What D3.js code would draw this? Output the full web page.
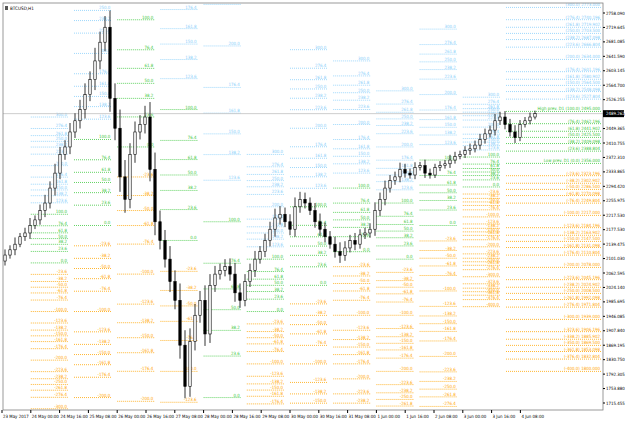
<!DOCTYPE html>
<html>
<head>
<style>
  body { margin: 0; background: #fff; }
  text { font-family: "DejaVu Sans Condensed", "DejaVu Sans", sans-serif; }
</style>
</head>
<body>
<svg id="chart"></svg>
<script src="https://d3js.org/d3.v7.min.js"></script>
<script>
// closes of the bars, every ~2.8h from 23 May 2017
var closes = [2111,2125,2140,2160,2170,2190,2205,2230,2250,2290,2330,2380,2400,2440,2470,2500,2540,2580,2630,2680,
  2720,2530,2450,2320,2260,2380,2440,2460,2480,2340,2200,2150,2100,2040,1990,1870,1760,1880,1950,1990,
  1900,2030,2060,2070,2080,2060,2010,1990,2040,2070,2100,2120,2150,2180,2210,2220,2200,2180,2240,2260,
  2250,2230,2200,2180,2160,2140,2120,2110,2130,2150,2140,2165,2170,2180,2230,2260,2290,2310,2320,2340,
  2330,2325,2345,2350,2330,2325,2345,2350,2355,2365,2375,2380,2390,2395,2405,2420,2435,2445,2470,2480,
  2460,2440,2425,2460,2470,2480,2489];
var firstOpen = 2095;
var wicks = [15,12,18,10,14,20,12,16,22,18,25,20,18,24,20,26,30,22,35,28,
  30,45,40,50,45,30,28,25,30,40,45,30,28,35,30,45,40,35,30,25,
  40,30,22,18,20,22,30,25,20,18,22,15,18,20,25,22,18,20,25,20,
  18,15,20,22,18,15,20,25,18,15,20,15,14,16,22,18,20,15,14,18,
  15,12,14,10,16,12,10,12,10,14,12,10,12,14,12,15,14,12,18,14,
  16,15,18,12,10,12,8];

// previous-day high/low feeding each day's fibonacci grid (days 24 May .. 4 Jun)
var dayPrevHigh = [2220,2420,2740,2500,2200,2100,2240,2290,2250,2365,2373,2495];
var dayPrevLow  = [2090,2190,2400,2150,1730,1960,2030,2120,2100,2190,2293,2356];
var fibRatios = [300,276.4,261.8,250,238.2,223.6,200,176.4,161.8,150,138.2,123.6,100,76.4,61.8,50,38.2,23.6,0,
  -23.6,-38.2,-50,-61.8,-76.4,-100,-123.6,-138.2,-150,-161.8,-176.4,-200,-223.6,-238.2,-250,-261.8,-276.4,-300,
  -323.6,-338.2,-350,-361.8,-376.4,-400];

var priceTicks = ["2758.090","2719.645","2681.085","2641.590","2603.145","2564.700","2526.255","2487.810","2449.365",
  "2410.755","2372.310","2333.865","2294.420","2255.975","2217.530","2177.530","2139.475","2101.030","2062.595",
  "2024.140","1985.695","1946.085","1907.840","1869.195","1830.750","1792.305","1753.880","1715.455"];
var timeLabels = ["23 May 2017","24 May 00:00","24 May 16:00","25 May 08:00","26 May 00:00","26 May 16:00",
  "27 May 08:00","28 May 00:00","28 May 16:00","29 May 08:00","30 May 00:00","30 May 16:00","31 May 08:00",
  "1 Jun 00:00","1 Jun 16:00","2 Jun 08:00","3 Jun 00:00","3 Jun 16:00","4 Jun 08:00"];

var W = 625, H = 425, L = 3, R = 603, T = 3, B = 410;
var svg = d3.select("#chart").attr("width", W).attr("height", H);

var y = d3.scaleLinear().domain([1715.455, 2758.09]).range([403, 13]);
var xi = d3.scaleLinear().domain([0, closes.length - 1]).range([5, 535]);
// hours since 23 May 08:00
var xt = d3.scaleLinear().domain([0, 16]).range([2, 30.8]);

svg.append("defs").append("clipPath").attr("id", "clip")
  .append("rect").attr("x", L).attr("y", T).attr("width", R - L).attr("height", B - T);
var g = svg.append("g").attr("clip-path", "url(#clip)");

function col(r) { return r > 100 ? "#87cefa" : (r >= 0 ? "#3cc83c" : "#ffa500"); }

// fibonacci grids per day
dayPrevHigh.forEach(function(hi, k) {
  var lo = dayPrevLow[k];
  var last = k === dayPrevHigh.length - 1;
  var x0 = xt(16 + 24 * k), x1 = last ? R - 2 : xt(16 + 24 * (k + 1)) - 6;
  fibRatios.forEach(function(r) {
    var p = lo + r / 100 * (hi - lo);
    var yy = y(p);
    if (yy < T || yy > B) return;
    g.append("line").attr("x1", x0).attr("x2", x1).attr("y1", yy).attr("y2", yy)
      .attr("stroke", col(r)).attr("stroke-width", 0.8).attr("stroke-dasharray", "1,1");
    var t;
    if (last) {
      var pre = r === 100 ? "High prev. D1 " : (r === 0 ? "Low prev. D1 " : "");
      t = pre + "(" + r.toFixed(1) + ") " + p.toFixed(3);
    } else t = r.toFixed(1);
    g.append("text").attr("x", x1 - 1).attr("y", yy - 1).attr("text-anchor", "end")
      .attr("font-size", 4.4).attr("fill", col(r)).text(t);
  });
});

// bid line
g.append("line").attr("x1", L).attr("x2", R).attr("y1", y(2489)).attr("y2", y(2489))
  .attr("stroke", "#c0c0c0").attr("stroke-width", 0.8);

// candles
closes.forEach(function(c, i) {
  var o = i === 0 ? firstOpen : closes[i - 1];
  var hi = Math.max(o, c) + wicks[i], lo = Math.min(o, c) - wicks[i] * 0.8;
  var xx = xi(i);
  g.append("line").attr("x1", xx).attr("x2", xx).attr("y1", y(hi)).attr("y2", y(lo))
    .attr("stroke", "#000").attr("stroke-width", 0.8);
  g.append("rect").attr("x", xx - 1.2).attr("width", 2.4)
    .attr("y", y(Math.max(o, c))).attr("height", Math.max(0.8, Math.abs(y(o) - y(c))))
    .attr("fill", c >= o ? "#fff" : "#000").attr("stroke", "#000").attr("stroke-width", 0.6);
});

// frame
svg.append("rect").attr("x", L).attr("y", T).attr("width", R - L).attr("height", B - T)
  .attr("fill", "none").attr("stroke", "#808080").attr("stroke-width", 0.8);

// right axis
var yt = d3.scalePoint().domain(priceTicks).range([13, 403]);
priceTicks.forEach(function(t) {
  svg.append("line").attr("x1", R).attr("x2", R + 2).attr("y1", yt(t)).attr("y2", yt(t)).attr("stroke", "#000");
  svg.append("text").attr("x", R + 3).attr("y", yt(t) + 1.6).attr("font-size", 4.4).attr("fill", "#000").text(t);
});
svg.append("rect").attr("x", R).attr("y", y(2489) - 3.5).attr("width", 21).attr("height", 7).attr("fill", "#000");
svg.append("text").attr("x", R + 3).attr("y", y(2489) + 1.6).attr("font-size", 4.4).attr("fill", "#fff").text("2489.262");

// bottom axis
timeLabels.forEach(function(t, i) {
  var xx = xt(16 * i);
  svg.append("line").attr("x1", xx).attr("x2", xx).attr("y1", B).attr("y2", B + 3).attr("stroke", "#000");
  svg.append("text").attr("x", xx + 1).attr("y", B + 8).attr("font-size", 4.4).attr("fill", "#000").text(t);
});

// title
svg.append("text").attr("x", 10).attr("y", 10).attr("font-size", 4.6).attr("fill", "#000").text("BTCUSD,H1");
svg.append("rect").attr("x", 5).attr("y", 6).attr("width", 3).attr("height", 4).attr("fill", "#555");
</script>
</body>
</html>
